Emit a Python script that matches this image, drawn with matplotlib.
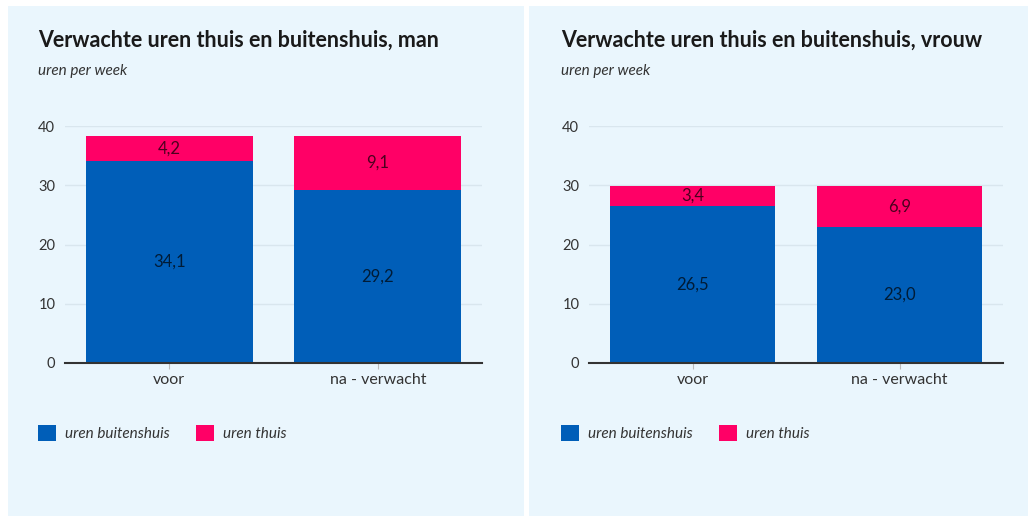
import matplotlib
matplotlib.use("Agg")
from matplotlib import pyplot as plt
from matplotlib.patches import Rectangle, Patch

plt.rcParams['font.family'] = ['Lato', 'DejaVu Sans']

# data
categories = ['voor', 'na - verwacht']
buiten_man = [34.1, 29.2]
thuis_man = [4.2, 9.1]
buiten_vrouw = [26.5, 23.0]
thuis_vrouw = [3.4, 6.9]
series_labels = ['uren buitenshuis', 'uren thuis']
titles = ['Verwachte uren thuis en buitenshuis, man',
          'Verwachte uren thuis en buitenshuis, vrouw']
subtitle = 'uren per week'
yticks = [0, 10, 20, 30, 40]

blue = '#005eb8'
pink = '#ff0066'
panel_bg = '#eaf6fd'

W, H = 1034, 517
fig = plt.figure(figsize=(W / 100, H / 100), dpi=100)
fig.patch.set_facecolor('white')


def fx(px):
    return px / W


def fy(py):
    return 1 - py / H


# two light blue panels, behind the axes
for x0, x1 in [(8, 524), (529, 1028)]:
    fig.patches.append(Rectangle((fx(x0), fy(516)), fx(x1 - x0), (516 - 6) / H,
                                 transform=fig.transFigure, facecolor=panel_bg,
                                 edgecolor='none', zorder=-5))

panels = [
    (65, 482, 38, buiten_man, thuis_man, titles[0]),
    (589, 1003, 561, buiten_vrouw, thuis_vrouw, titles[1]),
]

for ax_l, ax_r, tx, buiten, thuis, title in panels:
    ax = fig.add_axes([fx(ax_l), fy(363), fx(ax_r - ax_l), (363 - 126) / H])
    ax.set_facecolor('none')
    x = range(len(categories))
    b1 = ax.bar(x, buiten, width=0.8, color=blue, zorder=3)
    b2 = ax.bar(x, thuis, width=0.8, bottom=buiten, color=pink, zorder=3)
    for bars, vals in [(b1, buiten), (b2, thuis)]:
        ax.bar_label(bars, labels=[f'{v:.1f}'.replace('.', ',') for v in vals],
                     label_type='center', fontsize=12, color='black', alpha=0.7)
    ax.set_xlim(-0.5, 1.5)
    ax.set_ylim(0, 40)
    ax.set_yticks(yticks)
    ax.set_xticks(list(x))
    ax.set_xticklabels(categories, fontsize=11.5, color='#333333')
    ax.tick_params(axis='y', length=0, labelsize=10.5, labelcolor='#333333', pad=7)
    ax.tick_params(axis='x', length=4, color='#bbbbbb', pad=3)
    ax.grid(axis='y', color='#d9e6ee', linewidth=1, zorder=0)
    for s in ['top', 'right', 'left']:
        ax.spines[s].set_visible(False)
    ax.spines['bottom'].set_color('#333333')
    ax.spines['bottom'].set_linewidth(1.5)
    ax.spines['bottom'].set_zorder(4)

    fig.text(fx(tx), fy(40), title, fontsize=15.5, fontweight='bold',
             color='#1a1a1a', va='center', ha='left')
    fig.text(fx(tx), fy(71), subtitle, fontsize=11, style='italic',
             color='#333333', va='center', ha='left')

    handles = [Patch(facecolor=blue), Patch(facecolor=pink)]
    fig.legend(handles, series_labels, loc='center left',
               bbox_to_anchor=(fx(tx - 14), fy(433)), ncol=2, frameon=False,
               prop={'size': 11, 'style': 'italic'}, handlelength=1.2,
               handleheight=1.2, handletextpad=0.6, columnspacing=1.7,
               labelcolor='#333333')

fig.savefig('out.png', dpi=100, facecolor='white')
